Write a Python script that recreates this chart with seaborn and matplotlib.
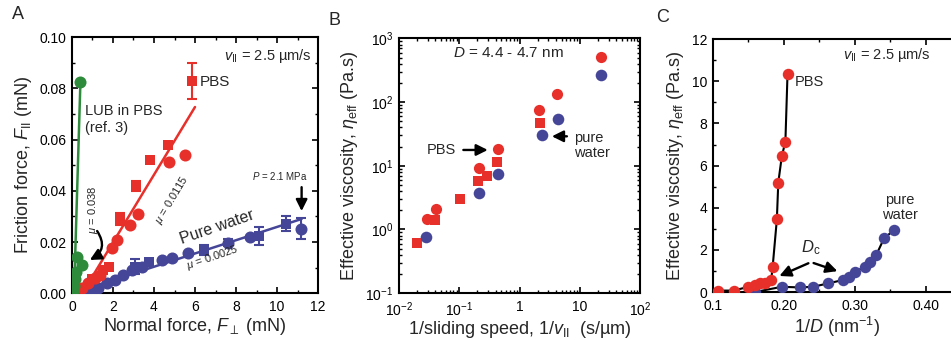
import matplotlib
matplotlib.use("Agg")
import matplotlib.pyplot as plt
import pandas as pd
import seaborn as sns
from matplotlib.ticker import MultipleLocator, FixedLocator, FixedFormatter, LogLocator, NullFormatter

RED = "#e8302b"
BLUE = "#464699"
GREEN = "#2e8b3c"

# ---- panel A: friction force vs normal force (mN)
pbs_circ_x = [0.5, 0.8, 1.1, 1.35, 1.94, 2.18, 2.83, 3.24, 4.72, 5.5]
pbs_circ_y = [0.002, 0.004, 0.006, 0.007, 0.0176, 0.0208, 0.0265, 0.031, 0.0512, 0.054]
pbs_sq_x = [1.0, 1.53, 1.81, 2.34, 3.1, 3.8, 4.68, 5.85]
pbs_sq_y = [0.0055, 0.009, 0.0104, 0.029, 0.042, 0.052, 0.0577, 0.0827]
pbs_sq_err = [0, 0, 0, 0.0025, 0.002, 0.001, 0.001, 0.007]
water_circ_x = [0.6, 1.0, 1.29, 1.69, 2.1, 2.5, 2.91, 3.4, 4.37, 4.86, 5.68, 7.63, 8.7, 11.19]
water_circ_y = [0.0008, 0.0015, 0.002, 0.0039, 0.0052, 0.0071, 0.0091, 0.0104, 0.013, 0.0137,
                0.0158, 0.0198, 0.022, 0.0252]
water_circ_err = [0, 0, 0, 0, 0, 0, 0, 0, 0, 0, 0, 0.0015, 0, 0.004]
water_sq_x = [3.06, 3.74, 6.42, 9.1, 10.46]
water_sq_y = [0.0104, 0.0122, 0.0169, 0.0225, 0.0272]
water_sq_err = [0.003, 0.001, 0.002, 0.0035, 0.003]
lub_x = [0.05, 0.1, 0.15, 0.2, 0.23, 0.47, 0.41]
lub_y = [0.001, 0.0027, 0.0057, 0.0084, 0.0143, 0.011, 0.0823]
# fitted lines (end points)
pbs_fit_x = [0.5, 6.0]
pbs_fit_y = [0.0, 0.0727]
water_fit_x = [0.0, 11.2]
water_fit_y = [0.0, 0.029]
lub_fit_x = [0.1, 0.41]
lub_fit_y = [0.0, 0.0823]

# ---- panel B: effective viscosity vs 1/sliding speed
b_pbs_circ_x = [0.0288, 0.041, 0.215, 0.445, 2.13, 4.24, 22.3]
b_pbs_circ_y = [1.44, 2.07, 9.1, 18.1, 75, 133, 502]
b_pbs_sq_x = [0.0196, 0.0396, 0.103, 0.206, 0.286, 0.417, 2.15]
b_pbs_sq_y = [0.62, 1.40, 3.0, 5.7, 6.9, 11.3, 47]
b_water_x = [0.0284, 0.215, 0.445, 2.33, 4.43, 22.3]
b_water_y = [0.75, 3.8, 7.3, 30, 55, 265]

# ---- panel C: effective viscosity vs 1/D
c_pbs_x = [0.1075, 0.129, 0.150, 0.159, 0.166, 0.173, 0.182, 0.184, 0.190, 0.192, 0.197, 0.202, 0.205]
c_pbs_y = [0.07, 0.07, 0.25, 0.33, 0.41, 0.44, 0.57, 1.17, 3.45, 5.19, 6.45, 7.13, 10.34]
c_water_x = [0.159, 0.197, 0.222, 0.241, 0.262, 0.283, 0.291, 0.300, 0.314, 0.321, 0.330, 0.341, 0.355]
c_water_y = [0.0, 0.25, 0.22, 0.25, 0.41, 0.57, 0.73, 0.96, 1.2, 1.44, 1.76, 2.55, 2.94]

sns.set_theme(style="ticks")
plt.rcParams.update({
    "font.family": ["Liberation Sans", "DejaVu Sans"],
    "mathtext.fontset": "custom",
    "mathtext.rm": "Liberation Sans",
    "mathtext.it": "Liberation Sans:italic",
    "mathtext.bf": "Liberation Sans:bold",
    "xtick.direction": "in", "ytick.direction": "in",
    "xtick.top": True, "ytick.right": True,
    "xtick.major.size": 4, "ytick.major.size": 4,
    "xtick.minor.size": 2.5, "ytick.minor.size": 2.5,
    "xtick.major.width": 1.2, "ytick.major.width": 1.2,
    "xtick.minor.width": 1.0, "ytick.minor.width": 1.0,
    "xtick.major.pad": 5, "ytick.major.pad": 4,
    "xtick.labelsize": 10, "ytick.labelsize": 10,
    "axes.linewidth": 1.5, "axes.edgecolor": "black",
    "xtick.color": "black", "ytick.color": "black",
    "axes.labelsize": 13,
})

fig = plt.figure(figsize=(9.51, 3.40), dpi=100)
axA = fig.add_axes([0.0757, 0.1374, 0.2587, 0.7536])
axB = fig.add_axes([0.4196, 0.138, 0.2534, 0.749])
axC = fig.add_axes([0.7497, 0.141, 0.2613, 0.744])

arrow = dict(arrowstyle="-|>", color="black", lw=1.7, mutation_scale=17)


def scatter(ax, x, y, color, marker, s):
    df = pd.DataFrame({"x": x, "y": y})
    sns.scatterplot(data=df, x="x", y="y", ax=ax, color=color, marker=marker, s=s,
                    linewidth=0, legend=False, zorder=3)


# ================= A
axA.plot(water_fit_x, water_fit_y, color=BLUE, lw=1.8, zorder=2)
axA.plot(pbs_fit_x, pbs_fit_y, color=RED, lw=1.8, zorder=2)
axA.plot(lub_fit_x, lub_fit_y, color=GREEN, lw=1.8, zorder=2)
eb = dict(fmt="none", elinewidth=1.5, capsize=3.5, capthick=1.5)
axA.errorbar(water_sq_x, water_sq_y, yerr=water_sq_err, ecolor=BLUE, **eb)
axA.errorbar(water_circ_x, water_circ_y, yerr=water_circ_err, ecolor=BLUE, **eb)
axA.errorbar(pbs_sq_x, pbs_sq_y, yerr=pbs_sq_err, ecolor=RED, **eb)
scatter(axA, water_circ_x, water_circ_y, BLUE, "o", 75)
scatter(axA, water_sq_x, water_sq_y, BLUE, "s", 60)
scatter(axA, pbs_circ_x, pbs_circ_y, RED, "o", 75)
scatter(axA, pbs_sq_x, pbs_sq_y, RED, "s", 60)
scatter(axA, lub_x, lub_y, GREEN, "o", 75)

axA.set_xlim(0, 12)
axA.set_ylim(0, 0.10)
axA.xaxis.set_major_locator(MultipleLocator(2))
axA.xaxis.set_minor_locator(MultipleLocator(1))
axA.yaxis.set_major_locator(MultipleLocator(0.02))
axA.yaxis.set_minor_locator(MultipleLocator(0.01))
axA.yaxis.set_major_formatter(matplotlib.ticker.FormatStrFormatter("%.2f"))
axA.set_xlabel(r"Normal force, $F_{\perp}$ (mN)", labelpad=1.5)
axA.set_ylabel(r"Friction force, $F_{\rm II}$ (mN)", labelpad=4)

axA.text(11.7, 0.0925, r"$v_{\rm II}$ = 2.5 µm/s", ha="right", va="center", fontsize=10.5)
axA.text(6.24, 0.0825, "PBS", ha="left", va="center", fontsize=11)
axA.text(0.62, 0.0678, "LUB in PBS\n(ref. 3)", ha="left", va="center", fontsize=10.5, linespacing=1.2)
axA.text(1.01, 0.0325, r"$\mu$ = 0.038", rotation=90, ha="center", va="center", fontsize=8)
axA.annotate("", xy=(0.75, 0.0125), xytext=(1.15, 0.0252),
             arrowprops=dict(arrow, connectionstyle="arc3,rad=-0.6"))
axA.text(4.87, 0.0364, r"$\mu$ = 0.0115", rotation=59, ha="center", va="center", fontsize=8)
axA.text(7.07, 0.0259, "Pure water", rotation=19, ha="center", va="center", fontsize=11.5)
axA.text(6.87, 0.0138, r"$\mu$ = 0.0025", rotation=19, ha="center", va="center", fontsize=8)
axA.text(10.13, 0.0458, r"$P$ = 2.1 MPa", ha="center", va="center", fontsize=7)
axA.annotate("", xy=(11.2, 0.031), xytext=(11.2, 0.0425), arrowprops=arrow)

# ================= B
scatter(axB, b_pbs_sq_x, b_pbs_sq_y, RED, "s", 60)
scatter(axB, b_pbs_circ_x, b_pbs_circ_y, RED, "o", 65)
scatter(axB, b_water_x, b_water_y, BLUE, "o", 70)
axB.set_xscale("log")
axB.set_yscale("log")
axB.set_xlim(1e-2, 1e2)
axB.set_ylim(1e-1, 1e3)
axB.xaxis.set_major_locator(FixedLocator([1e-2, 1e-1, 1, 10, 1e2]))
axB.xaxis.set_major_formatter(FixedFormatter([r"10$^{-2}$", r"10$^{-1}$", "1", "10", r"10$^{2}$"]))
axB.xaxis.set_minor_locator(LogLocator(base=10, subs=range(2, 10), numticks=20))
axB.xaxis.set_minor_formatter(NullFormatter())
axB.yaxis.set_major_locator(FixedLocator([1e-1, 1, 10, 1e2, 1e3]))
axB.yaxis.set_major_formatter(FixedFormatter([r"10$^{-1}$", r"10$^{0}$", r"10$^{1}$", r"10$^{2}$", r"10$^{3}$"]))
axB.yaxis.set_minor_locator(LogLocator(base=10, subs=range(2, 10), numticks=20))
axB.yaxis.set_minor_formatter(NullFormatter())
axB.set_xlabel(r"1/sliding speed, 1/$v_{\rm II}$  (s/µm)", labelpad=0)
axB.set_ylabel(r"Effective viscosity, $\eta_{\rm eff}$ (Pa.s)", labelpad=4)

axB.text(0.644, 588, r"$D$ = 4.4 - 4.7 nm", ha="center", va="center", fontsize=11)
axB.text(0.0498, 17.7, "PBS", ha="center", va="center", fontsize=10.5)
axB.annotate("", xy=(0.33, 17.7), xytext=(0.105, 17.7), arrowprops=arrow)
axB.text(7.9, 21, "pure\nwater", ha="left", va="center", fontsize=10.5, linespacing=1.1)
axB.annotate("", xy=(3.1, 29), xytext=(6.8, 29), arrowprops=arrow)

# ================= C
sns.lineplot(x=c_water_x, y=c_water_y, ax=axC, color="black", lw=1.5, sort=True, zorder=2)
sns.lineplot(x=c_pbs_x, y=c_pbs_y, ax=axC, color="black", lw=1.5, sort=True, zorder=2)
scatter(axC, c_water_x, c_water_y, BLUE, "o", 68)
scatter(axC, c_pbs_x, c_pbs_y, RED, "o", 68)
axC.set_xlim(0.1, 0.45)
axC.set_ylim(0, 12)
axC.xaxis.set_major_locator(FixedLocator([0.1, 0.2, 0.3, 0.4]))
axC.xaxis.set_major_formatter(FixedFormatter(["0.1", "0.20", "0.30", "0.40"]))
axC.xaxis.set_minor_locator(MultipleLocator(0.05))
axC.yaxis.set_major_locator(MultipleLocator(2))
axC.yaxis.set_minor_locator(MultipleLocator(1))
axC.set_xlabel(r"1/$D$ (nm$^{-1}$)", labelpad=1.5)
axC.set_ylabel(r"Effective viscosity, $\eta_{\rm eff}$ (Pa.s)", labelpad=4)

axC.text(0.283, 11.24, r"$v_{\rm II}$ = 2.5 µm/s", ha="left", va="center", fontsize=10.5)
axC.text(0.2155, 9.96, "PBS", ha="left", va="center", fontsize=10.5)
axC.text(0.363, 4.03, "pure\nwater", ha="center", va="center", fontsize=10.5, linespacing=1.1)
axC.text(0.238, 2.09, r"$D_{\rm c}$", ha="center", va="center", fontsize=12)
axC.annotate("", xy=(0.190, 0.71), xytext=(0.238, 1.42), arrowprops=arrow)
axC.annotate("", xy=(0.279, 0.95), xytext=(0.238, 1.42), arrowprops=arrow)

fig.text(0.019, 0.956, "A", ha="center", va="center", fontsize=13)
fig.text(0.352, 0.941, "B", ha="center", va="center", fontsize=13)
fig.text(0.697, 0.95, "C", ha="center", va="center", fontsize=13)

fig.savefig("out.png", dpi=100)
